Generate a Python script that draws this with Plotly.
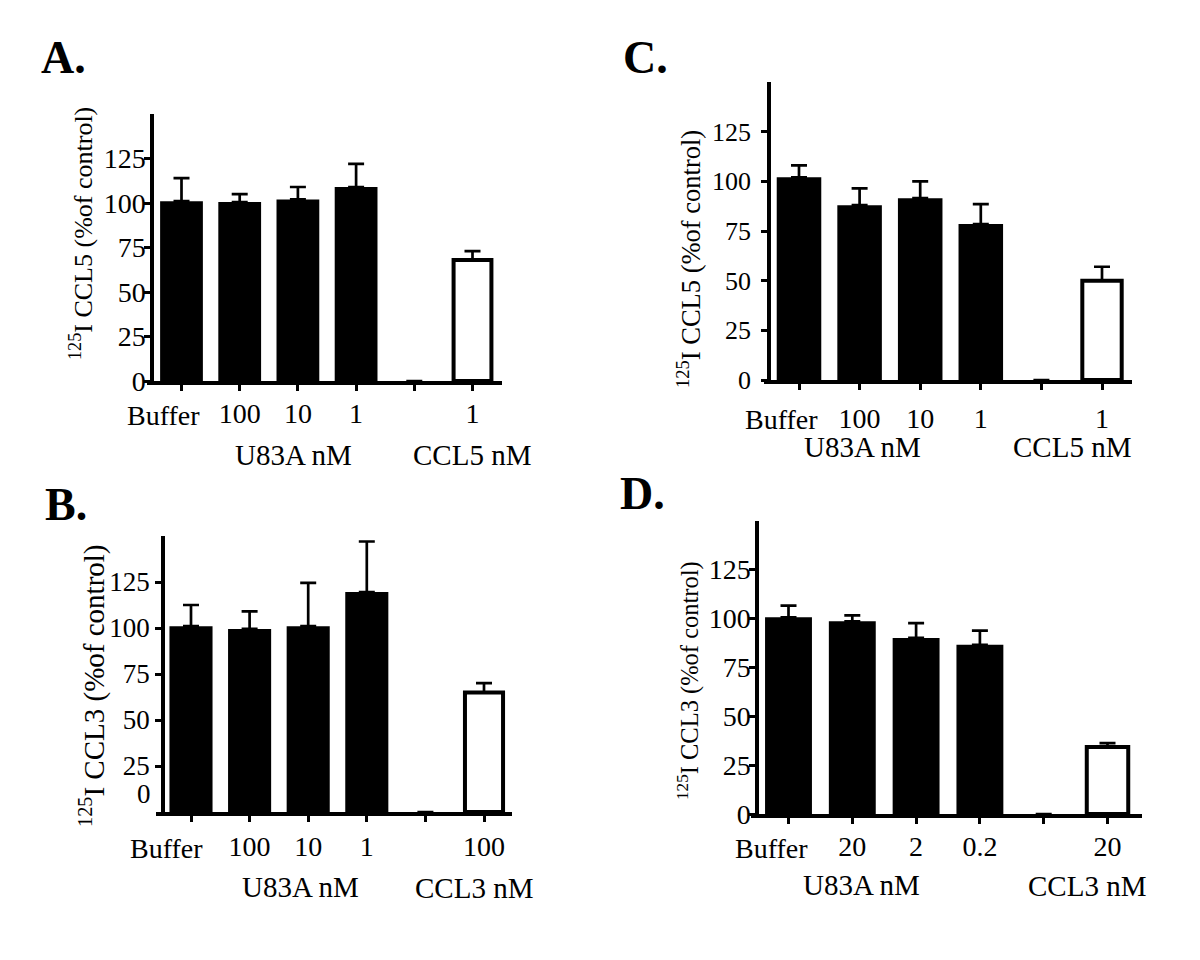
import plotly.graph_objects as go

# ---------------- data ----------------
labels_A = ["Buffer", "100", "10", "1", "", "1"]
values_A = [101, 100.5, 102, 109, 0, 68]
errors_A = [13, 4.5, 7, 13, 0, 5]

labels_B = ["Buffer", "100", "10", "1", "", "100"]
values_B = [101, 99.5, 101, 119.5, 0, 65]
errors_B = [11.5, 9.5, 23.5, 27.5, 0, 5]

labels_C = ["Buffer", "100", "10", "1", "", "1"]
values_C = [102, 88, 91.5, 78.5, 0, 50]
errors_C = [6, 8.5, 8.5, 10, 0, 7]

labels_D = ["Buffer", "20", "2", "0.2", "", "20"]
values_D = [100.5, 98.5, 90, 86.5, 0, 34.2]
errors_D = [6, 3, 7.5, 7.2, 0, 2]

y_ticks = [0, 25, 50, 75, 100, 125]
y_ticks_B = [25, 50, 75, 100, 125]

# the html body keeps the browser's default 8px margin, so the figure is
# sized to the window minus that margin and coordinates are shifted by it
OFF = 8
W, H = 1200 - 2 * OFF, 960 - 2 * OFF
FONT = "Liberation Serif"


def px(x):
    return (x - OFF) / W


def py(y):
    return 1 - (y - OFF) / H


panels = [
    dict(key="", labels=labels_A, values=values_A, errors=errors_A,
         ytitle="<sup>125</sup>I CCL5 (%of control)", letter="A.",
         x_left=147, x_right=502, y_bot=381, y_top=114, yaxis_x=152,
         c0=181.5, dx=58.2, title_xy=(81, 234), title_size=26, letter_xy=(63, 58),
         g1=("U83A nM", 293, 455), g2=("CCL5 nM", 472, 455),
         xlab_gap=32, ystand=-7, yfont=28, yt=y_ticks, buf_shift=-18),
    dict(key="2", labels=labels_B, values=values_B, errors=errors_B,
         ytitle="<sup>125</sup>I CCL3 (%of control)", letter="B.",
         x_left=156, x_right=512, y_bot=812, y_top=536, yaxis_x=163,
         c0=191, dx=58.6, title_xy=(92, 686), title_size=29, letter_xy=(66, 504),
         g1=("U83A nM", 300, 887), g2=("CCL3 nM", 474, 888),
         xlab_gap=34, ystand=0, yfont=27, yt=y_ticks_B, buf_shift=-25),
    dict(key="3", labels=labels_C, values=values_C, errors=errors_C,
         ytitle="<sup>125</sup>I CCL5 (%of control)", letter="C.",
         x_left=764, x_right=1132, y_bot=380, y_top=82, yaxis_x=769,
         c0=799, dx=60.6, title_xy=(689, 259), title_size=26.5, letter_xy=(645, 57),
         g1=("U83A nM", 862, 447), g2=("CCL5 nM", 1072, 447),
         xlab_gap=38, ystand=5, yfont=26, yt=y_ticks, buf_shift=-18),
    dict(key="4", labels=labels_D, values=values_D, errors=errors_D,
         ytitle="<sup>125</sup>I CCL3 (%of control)", letter="D.",
         x_left=751, x_right=1142, y_bot=814, y_top=520.5, yaxis_x=757,
         c0=788.5, dx=63.8, title_xy=(688, 681), title_size=24.5, letter_xy=(642, 493),
         g1=("U83A nM", 861, 885), g2=("CCL3 nM", 1087, 886),
         xlab_gap=32, ystand=-7, yfont=28, yt=y_ticks, buf_shift=-17),
]

fig = go.Figure()
annotations = []
layout = {}

for p in panels:
    k = p["key"]
    n = len(p["labels"])
    xs = list(range(n))
    fig.add_trace(go.Bar(
        x=xs[:-1], y=p["values"][:-1], width=0.735,
        marker=dict(color="black", line=dict(width=0)),
        error_y=dict(type="data", symmetric=False, array=p["errors"][:-1],
                     arrayminus=[0] * (n - 1), color="black", thickness=2.7, width=8),
        xaxis="x" + k, yaxis="y" + k, showlegend=False,
    ))
    fig.add_trace(go.Bar(
        x=xs[-1:], y=p["values"][-1:], width=0.65,
        marker=dict(color="white", line=dict(width=4, color="black")),
        error_y=dict(type="data", symmetric=False, array=p["errors"][-1:],
                     arrayminus=[0], color="black", thickness=2.7, width=8),
        xaxis="x" + k, yaxis="y" + k, showlegend=False,
    ))

    # labelled ticks; unlabeled positions (and "Buffer", which the original sets left
    # of its tick and is placed as an annotation) get plain tick marks
    lab_idx = [i for i in xs[1:] if p["labels"][i]]
    bare_idx = [i for i in xs if i not in lab_idx]
    r0 = (p["x_left"] - p["c0"]) / p["dx"]
    r1 = (p["x_right"] - p["c0"]) / p["dx"]
    layout["xaxis" + k] = dict(
        domain=[px(p["x_left"]), px(p["x_right"])], range=[r0, r1],
        anchor="y" + k, showline=True, linewidth=4, linecolor="black",
        ticks="outside", ticklen=6, tickwidth=3, tickcolor="black",
        tickvals=lab_idx, ticktext=[p["labels"][i] for i in lab_idx],
        minor=dict(tickvals=bare_idx, ticks="outside", ticklen=6, tickwidth=3,
                   tickcolor="black", showgrid=False),
        tickangle=0, showgrid=False, zeroline=False,
        ticklabelstandoff=p["xlab_gap"] - 34, automargin=False,
        tickfont=dict(family=FONT, size=28, color="black"),
    )
    layout["yaxis" + k] = dict(
        domain=[py(p["y_bot"]), py(p["y_top"])], range=[0, 150],
        anchor="free", position=px(p["yaxis_x"]),
        showline=True, linewidth=3.5, linecolor="black",
        ticks="outside", ticklen=6, tickwidth=3, tickcolor="black",
        tickvals=p["yt"], ticklabelstandoff=p["ystand"],
        showgrid=False, zeroline=False, automargin=False,
        tickfont=dict(family=FONT, size=p["yfont"], color="black"),
    )
    annotations.append(dict(text=p["labels"][0], x=xs[0], xref="x" + k, xshift=p["buf_shift"],
                            y=py(p["y_bot"] + 2 + p["xlab_gap"]), yref="paper",
                            showarrow=False, xanchor="center", yanchor="middle",
                            font=dict(family=FONT, size=28, color="black")))
    tx, ty = p["title_xy"]
    annotations.append(dict(text=p["ytitle"], x=px(tx), y=py(ty), xref="paper", yref="paper",
                            textangle=-90, showarrow=False, xanchor="center", yanchor="middle",
                            font=dict(family=FONT, size=p["title_size"], color="black")))
    lx, ly = p["letter_xy"]
    annotations.append(dict(text="<b>" + p["letter"] + "</b>", x=px(lx), y=py(ly),
                            xref="paper", yref="paper", showarrow=False,
                            xanchor="center", yanchor="middle",
                            font=dict(family=FONT, size=46, color="black")))
    for g in (p["g1"], p["g2"]):
        annotations.append(dict(text=g[0], x=px(g[1]), y=py(g[2]), xref="paper", yref="paper",
                                showarrow=False, xanchor="center", yanchor="middle",
                                font=dict(family=FONT, size=29, color="black")))

# panel B shows its "0" label displaced above the axis
annotations.append(dict(text="0", x=px(153), y=py(794), xref="paper", yref="paper",
                        showarrow=False, xanchor="right", yanchor="middle",
                        font=dict(family=FONT, size=27, color="black")))

fig.update_layout(
    template="none",
    width=W, height=H, margin=dict(l=0, r=0, t=0, b=0, autoexpand=False),
    paper_bgcolor="white", plot_bgcolor="white",
    barmode="overlay", annotations=annotations, **layout,
)

fig.write_html("out.html")
